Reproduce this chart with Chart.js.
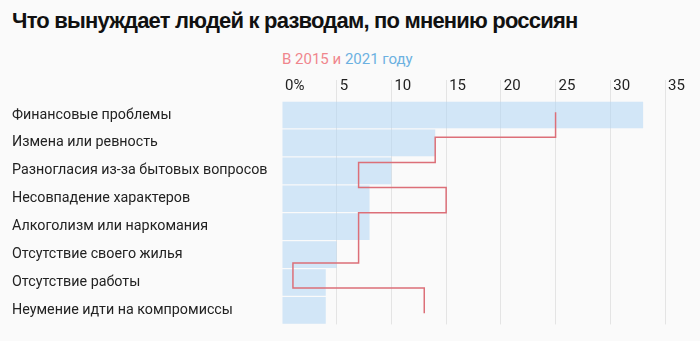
<!DOCTYPE html>
<html lang="ru">
<head>
<meta charset="utf-8">
<script src="https://cdn.jsdelivr.net/npm/chart.js@4"></script>
<style>
  html, body { margin: 0; padding: 0; background: #fafafa; }
  .wrap { position: relative; width: 700px; height: 341px; overflow: hidden; }
  .title {
    position: absolute; left: 12px; top: 8px;
    font: bold 22px "Liberation Sans", Arial, sans-serif; letter-spacing: -0.8px;
    color: #111; white-space: nowrap;
  }
  .subtitle {
    position: absolute; left: 282px; top: 50px;
    font: 15px Roboto, sans-serif; white-space: nowrap;
  }
  .red { color: #f0868d; }
  .blue { color: #6cb1e1; }
  canvas { position: absolute; left: 0; top: 0; }
</style>
</head>
<body>
<div class="wrap">
  <div class="title" id="title">Что вынуждает людей к разводам, по мнению россиян</div>
  <div class="subtitle"><span class="red">В 2015 и</span> <span class="blue">2021 году</span></div>
  <canvas id="divorceChart" width="700" height="341"></canvas>
</div>
<script>
// Причины разводов
const reasons = [
  'Финансовые проблемы',
  'Измена или ревность',
  'Разногласия из-за бытовых вопросов',
  'Несовпадение характеров',
  'Алкоголизм или наркомания',
  'Отсутствие своего жилья',
  'Отсутствие работы',
  'Неумение идти на компромиссы'
];

// Доля ответов, %
const values2021 = [33, 14, 10, 8, 8, 5, 4, 4];
const values2015 = [25, 14, 7, 15, 7, 7, 1, 13];

// Подписи шкалы
const xTicks = ['0%', '5', '10', '15', '20', '25', '30', '35'];

// Ступенчатая линия 2015 года: по две точки на каждую категорию (верх и низ полосы)
const stepPoints = [];
values2015.forEach((v, i) => {
  stepPoints.push({ x: v, y: i - 0.5 });
  stepPoints.push({ x: v, y: i + 0.5 });
});

const ctx = document.getElementById('divorceChart').getContext('2d');

const divorceChart = new Chart(ctx, {
  type: 'bar',
  data: {
    labels: reasons,
    datasets: [
      {
        type: 'scatter',
        label: '2015',
        data: stepPoints,
        yAxisID: 'y2',
        showLine: true,
        borderColor: '#dc6f78',
        borderWidth: 1.5,
        pointRadius: 0,
        tension: 0,
        order: 0
      },
      {
        label: '2021',
        data: values2021,
        backgroundColor: 'rgba(176, 214, 244, 0.55)',
        borderWidth: 0,
        grouped: false,
        barPercentage: 1,
        categoryPercentage: 0.955,
        order: 1
      }
    ]
  },
  options: {
    indexAxis: 'y',
    responsive: false,
    animation: false,
    layout: {
      padding: { top: 61, left: 12, right: 35, bottom: 14 }
    },
    scales: {
      x: {
        type: 'linear',
        position: 'top',
        min: 0,
        max: 35,
        border: { display: false },
        grid: {
          color: c => (c.tick && c.tick.value === 0) ? 'rgba(0,0,0,0)' : '#e4e4e4',
          lineWidth: 1,
          drawTicks: true,
          tickLength: 21,
          tickColor: c => (c.tick && c.tick.value === 0) ? 'rgba(0,0,0,0)' : '#e4e4e4'
        },
        ticks: {
          stepSize: 5,
          align: 'start',
          labelOffset: 3,
          padding: -15,
          color: '#222',
          font: { family: 'Roboto', size: 15 },
          callback: (value, index) => xTicks[index]
        },
        afterFit: scale => { scale.height = 40; }
      },
      y: {
        type: 'category',
        border: { display: false },
        grid: { display: false },
        ticks: {
          crossAlign: 'far',
          color: '#222',
          font: { family: 'Roboto', size: 14.3 },
          padding: 8
        },
        afterFit: scale => { scale.width = 270; }
      },
      y2: {
        type: 'linear',
        display: false,
        reverse: true,
        min: -0.5,
        max: 7.5
      }
    },
    plugins: {
      legend: { display: false },
      tooltip: { enabled: false }
    }
  }
});
</script>
</body>
</html>
